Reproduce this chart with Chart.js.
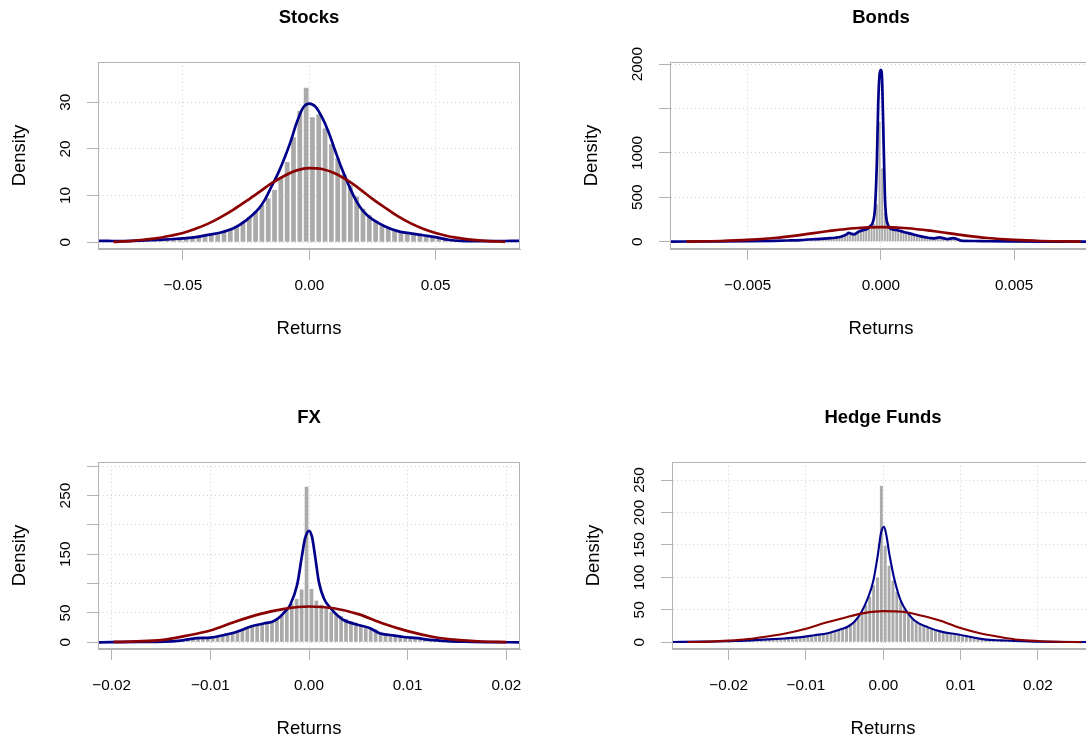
<!DOCTYPE html>
<html>
<head>
<meta charset="utf-8">
<script src="https://cdn.jsdelivr.net/npm/chart.js@4.4.1/dist/chart.umd.min.js"></script>
<style>
  html, body { margin: 0; padding: 0; background: #fff; overflow: hidden; width: 1086px; height: 740px; position: relative; }
  canvas { position: absolute; }
</style>
</head>
<body>
<canvas id="stocks" width="542" height="349" style="left:-2px;top:0px"></canvas>
<canvas id="bonds" width="542" height="349" style="left:570px;top:0px"></canvas>
<canvas id="fx" width="542" height="349" style="left:-2px;top:400px"></canvas>
<canvas id="hedge" width="542" height="349" style="left:572px;top:400px"></canvas>
<script>
// ---- Stocks ----
const stocksBinMid = [-0.06625,-0.06375,-0.06125,-0.05875,-0.05625,-0.05375,-0.05125,-0.04875,-0.04625,-0.04375,
  -0.04125,-0.03875,-0.03625,-0.03375,-0.03125,-0.02875,-0.02625,-0.02375,-0.02125,-0.01875,
  -0.01625,-0.01375,-0.01125,-0.00875,-0.00625,-0.00375,-0.00125,0.00125,0.00375,0.00625,
  0.00875,0.01125,0.01375,0.01625,0.01875,0.02125,0.02375,0.02625,0.02875,0.03125,
  0.03375,0.03625,0.03875,0.04125,0.04375,0.04625,0.04875,0.05125,0.05375,0.05625,
  0.05875,0.06125,0.06375];
const stocksBinDensity = [0.4,0.5,0.5,0.6,0.7,0.7,0.8,0.9,1.0,1.2,
  1.5,1.9,2.0,2.3,2.9,3.4,4.4,5.4,6.6,8.0,
  9.4,11.2,13.8,17.2,22.5,28.2,33.1,26.8,27.4,24.4,
  21.0,18.0,14.6,12.2,9.8,7.2,5.8,4.6,3.6,3.1,
  2.6,2.3,2.0,1.8,1.5,1.3,1.2,1.0,0.9,0.6,
  0.4,0.3,0.2];
const stocksKdeX = [-0.0838,-0.08,-0.075,-0.07,-0.065,-0.06,-0.055,-0.05,-0.045,-0.04,
  -0.035,-0.03,-0.025,-0.02,-0.0175,-0.015,-0.0125,-0.01,-0.0075,-0.005,
  -0.0025,0,0.0025,0.005,0.0075,0.01,0.0125,0.015,0.0175,0.02,
  0.0225,0.025,0.03,0.035,0.04,0.045,0.05,0.055,0.06,0.065,
  0.07,0.075,0.08,0.0834];
const stocksKdeY = [0.3,0.3,0.25,0.3,0.4,0.5,0.65,0.85,1.1,1.6,
  2.1,3.0,4.7,7.2,9.2,11.9,14.6,17.8,21.4,25.6,
  28.8,29.7,29.0,26.8,23.8,20.0,16.3,13.0,10.0,7.6,
  6.0,4.9,3.4,2.4,1.9,1.5,1.1,0.55,0.3,0.25,
  0.25,0.25,0.3,0.3];
const stocksNormX = [-0.0775,-0.07,-0.065,-0.06,-0.055,-0.05,-0.045,-0.04,-0.035,-0.03,
  -0.025,-0.02,-0.015,-0.01,-0.005,0,0.005,0.01,0.015,0.02,
  0.025,0.03,0.035,0.04,0.045,0.05,0.055,0.06,0.065,0.07,0.0775];
const stocksNormY = [0.1,0.3,0.6,0.9,1.4,2.0,2.9,4.0,5.4,7.0,
  8.8,10.7,12.6,14.2,15.4,15.9,15.7,14.8,13.3,11.4,
  9.3,7.4,5.6,4.1,2.9,2.0,1.3,0.85,0.5,0.3,0.1];
const stocksXTicks = [-0.05, 0, 0.05];
const stocksXLabels = ['\u22120.05', '0.00', '0.05'];
const stocksYTicks = [0, 10, 20, 30];
const stocksYLabels = ['0', '10', '20', '30'];

// ---- Bonds ----
const bondsBinMid = [-0.00305,-0.00295,-0.00285,-0.00275,-0.00265,-0.00255,-0.00245,-0.00235,-0.00225,-0.00215,
  -0.00205,-0.00195,-0.00185,-0.00175,-0.00165,-0.00155,-0.00145,-0.00135,-0.00125,-0.00115,
  -0.00105,-0.00095,-0.00085,-0.00075,-0.00065,-0.00055,-0.00045,-0.00035,-0.00025,-0.00015,
  -0.00005,0.00005,0.00015,0.00025,0.00035,0.00045,0.00055,0.00065,0.00075,0.00085,
  0.00095,0.00105,0.00115,0.00125,0.00135,0.00145,0.00155,0.00165,0.00175,0.00185,
  0.00195,0.00205,0.00215,0.00225,0.00235,0.00245,0.00255,0.00265,0.00275,0.00285,
  0.00295,0.00305];
const bondsBinDensity = [10,12,14,15,18,20,25,30,28,35,
  38,36,42,45,48,52,60,70,95,90,
  85,95,110,120,130,140,150,165,200,420,
  1350,826,330,190,155,140,132,128,120,112,
  104,96,88,80,72,62,58,50,46,42,
  38,40,46,44,36,32,30,36,34,24,
  14,10];
const bondsKdeX = [-0.0079,-0.006,-0.005,-0.004,-0.0035,-0.003,-0.0027,-0.0024,-0.002,-0.0017,
  -0.0015,-0.0013,-0.0012,-0.0011,-0.001,-0.0009,-0.0008,-0.00065,-0.0005,-0.0004,
  -0.0003,-0.00022,-0.00015,-0.0001,-0.00005,0,0.00005,0.0001,0.00015,0.0002,
  0.00028,0.00035,0.00045,0.00055,0.0007,0.00085,0.001,0.00115,0.0013,0.0015,
  0.0017,0.0019,0.002,0.0022,0.0024,0.0025,0.0027,0.0029,0.003,0.0035,
  0.004,0.005,0.006,0.0079];
const bondsKdeY = [2,3,5,10,14,19,25,30,38,45,
  56,80,100,88,83,100,118,132,145,175,
  220,380,900,1550,1880,1935,1800,1150,520,280,
  180,150,138,132,124,110,100,88,75,60,
  49,40,38,48,35,30,40,25,12,8,
  5,3,2,2];
const bondsNormX = [-0.0073,-0.006,-0.005,-0.004,-0.003,-0.002,-0.001,0,0.001,0.002,0.003,0.004,0.005,0.006,0.0075];
const bondsNormY = [1,8,20,42,77,118,152,165,152,118,77,42,20,8,1];
const bondsXTicks = [-0.005, 0, 0.005];
const bondsXLabels = ['\u22120.005', '0.000', '0.005'];
const bondsYTicks = [0, 500, 1000, 1500, 2000];
const bondsYLabels = ['0', '500', '1000', '', '2000'];

// ---- FX ----
const fxBinMid = [-0.01475,-0.01425,-0.01375,-0.01325,-0.01275,-0.01225,-0.01175,-0.01125,-0.01075,-0.01025,
  -0.00975,-0.00925,-0.00875,-0.00825,-0.00775,-0.00725,-0.00675,-0.00625,-0.00575,-0.00525,
  -0.00475,-0.00425,-0.00375,-0.00325,-0.00275,-0.00225,-0.00175,-0.00125,-0.00075,-0.00025,
  0.00025,0.00075,0.00125,0.00175,0.00225,0.00275,0.00325,0.00375,0.00425,0.00475,
  0.00525,0.00575,0.00625,0.00675,0.00725,0.00775,0.00825,0.00875,0.00925,0.00975,
  0.01025,0.01075,0.01125,0.01175,0.01225,0.01275,0.01325,0.01375,0.01425,0.01475,0.01525];
const fxBinDensity = [1,1.5,2,3,4,5,6,7,8,8,
  9,10,12,14,16,19,22,25,28,30,
  32,33,36,40,46,55,66,74,90,265,
  91,71,64,57,52,49,45,40,36,32,
  29,28,25,22,18,15,13,11,9,8,
  7,7,6,5,4,3,2.5,2,1.5,1,1];
const fxKdeX = [-0.0214,-0.02,-0.017,-0.0147,-0.013,-0.0114,-0.01,-0.0086,-0.0073,-0.0059,
  -0.0046,-0.0036,-0.0029,-0.0024,-0.0019,-0.0012,-0.0007,-0.0004,0,0.0003,
  0.0006,0.001,0.0015,0.0022,0.0035,0.0049,0.0062,0.0072,0.0082,0.0096,
  0.011,0.0123,0.014,0.0157,0.018,0.0214];
const fxKdeY = [0,0.2,0.6,1,3,7,8,12.5,18,27,
  32,36,44,53,64,98,149,177,190,180,
  149,103,75,58,38,30,24,15,12.5,9,
  7,4,2,1,0.4,0];
const fxNormX = [-0.0198,-0.0175,-0.015,-0.0125,-0.01,-0.0075,-0.005,-0.0025,0,0.0025,0.005,0.0075,0.01,0.0125,0.015,0.0175,0.02];
const fxNormY = [0.6,1.6,3.8,11,20,35,48,57,61,58,48,32,19,9.5,4,1.4,0.4];
const fxXTicks = [-0.02, -0.01, 0, 0.01, 0.02];
const fxXLabels = ['\u22120.02', '\u22120.01', '0.00', '0.01', '0.02'];
const fxYTicks = [0, 50, 100, 150, 200, 250, 300];
const fxYLabels = ['0', '50', '', '150', '', '250', ''];

// ---- Hedge Funds ----
const hedgeBinMid = [-0.01725,-0.01675,-0.01625,-0.01575,-0.01525,-0.01475,-0.01425,-0.01375,-0.01325,-0.01275,
  -0.01225,-0.01175,-0.01125,-0.01075,-0.01025,-0.00975,-0.00925,-0.00875,-0.00825,-0.00775,
  -0.00725,-0.00675,-0.00625,-0.00575,-0.00525,-0.00475,-0.00425,-0.00375,-0.00325,-0.00275,
  -0.00225,-0.00175,-0.00125,-0.00075,-0.00025,
  0.00025,0.00075,0.00125,0.00175,0.00225,0.00275,0.00325,0.00375,0.00425,0.00475,
  0.00525,0.00575,0.00625,0.00675,0.00725,0.00775,0.00825,0.00875,0.00925,0.00975,
  0.01025,0.01075,0.01125,0.01175,0.01225,0.01275,0.01325,0.01375,0.01425,0.01475,
  0.01525,0.01575,0.01625,0.01675,0.01725,0.01775];
const hedgeBinDensity = [2,2,2.5,3,3,4,4.5,5,5.5,6,
  6.5,7,7.5,8,9,10,10.5,11.5,12,13,
  14,16,17.5,19,21,24,27,31,38,46,
  57,70,88,100,241,
  149,118,95,78,63,52,44,38,33,29,
  26,23,21,19,17,16,14.5,13.5,12.5,12,
  11,10,8.5,7,6,5,4.5,4,3.5,3,
  3,2.5,2,2,1.5,1.5];
const hedgeKdeX = [-0.0275,-0.0235,-0.0192,-0.0149,-0.0128,-0.0106,-0.0089,-0.0072,-0.0054,-0.0046,
  -0.0037,-0.0028,-0.002,-0.0013,-0.0007,-0.0003,0.0001,0.0004,0.0008,0.0015,
  0.0023,0.0032,0.004,0.0058,0.0075,0.0097,0.0118,0.0131,0.0153,0.0196,0.0275];
const hedgeKdeY = [0.5,1,2,4.5,6,8,11,14,20.5,24,
  32,47,68,94,135,168,178,165,135,94,
  63,45,34,23,16.5,12,7,4.5,3,1,0.5];
const hedgeNormX = [-0.0253,-0.0225,-0.02,-0.0175,-0.015,-0.0125,-0.01,-0.0075,-0.005,-0.0025,
  0,0.0025,0.005,0.0075,0.01,0.0125,0.015,0.0175,0.02,0.0225,0.0256];
const hedgeNormY = [0.4,1.1,2.6,5,9,14,21,30,38,45,
  48,47,41,33,22,14,8.5,4,2,0.9,0.3];
const hedgeXTicks = [-0.02, -0.01, 0, 0.01, 0.02];
const hedgeXLabels = ['\u22120.02', '\u22120.01', '0.00', '0.01', '0.02'];
const hedgeYTicks = [0, 50, 100, 150, 200, 250];
const hedgeYLabels = ['0', '50', '100', '150', '200', '250'];

Chart.defaults.font.family = "'Liberation Sans', Arial, Helvetica, sans-serif";
Chart.defaults.color = '#000';

const axisGray = '#b3b3b3';

// frame round the plot region, like R's box()
const boxPlugin = {
  id: 'plotBox',
  afterDraw(chart) {
    const a = chart.chartArea;
    const ctx = chart.ctx;
    ctx.save();
    ctx.strokeStyle = axisGray;
    ctx.lineWidth = 1;
    ctx.strokeRect(Math.round(a.left) + 0.5, Math.round(a.top) + 0.5,
      Math.round(a.right - a.left) - 1, Math.round(a.bottom - a.top) - 1);
    ctx.restore();
  }
};

function pairs(xs, ys) {
  return xs.map((x, i) => ({ x: x, y: ys[i] }));
}

function makePanel(id, p) {
  new Chart(document.getElementById(id), {
    type: 'bar',
    data: {
      datasets: [
        { type: 'line', data: pairs(p.normX, p.normY), borderColor: '#8b0000', borderWidth: p.lw,
          pointRadius: 0, cubicInterpolationMode: 'monotone', order: 0 },
        { type: 'line', data: pairs(p.kdeX, p.kdeY), borderColor: '#00008b', borderWidth: p.lw,
          pointRadius: 0, cubicInterpolationMode: 'monotone', order: 1 },
        { type: 'bar', data: pairs(p.binMid, p.binDensity), backgroundColor: '#aaaaaa',
          barPercentage: 1, categoryPercentage: 0.75, order: 2 }
      ]
    },
    options: {
      responsive: false,
      animation: false,
      layout: { padding: { left: 0, right: 20, top: 0, bottom: 0 } },
      plugins: {
        legend: { display: false },
        tooltip: { enabled: false },
        title: {
          display: true, text: p.title, fullSize: false,
          font: { size: 18.5, weight: 'bold' },
          padding: { top: 6.9, bottom: 32.9 }
        }
      },
      scales: {
        x: {
          type: 'linear', min: p.xmin, max: p.xmax, offset: false,
          afterBuildTicks: (s) => { s.ticks = p.xTicks.map(v => ({ value: v })); },
          afterFit: (s) => { s.height = 100; s.paddingLeft = 0; s.paddingRight = 0; },
          ticks: {
            autoSkip: false, maxRotation: 0, minRotation: 0, padding: 16.5,
            font: { size: 15.3 },
            callback: (v, i) => p.xLabels[i]
          },
          grid: { color: '#d3d3d3', offset: false, tickLength: 11, tickColor: axisGray, tickWidth: 1 },
          border: { display: true, color: axisGray, width: 1, dash: [1, 3] },
          title: { display: true, text: 'Returns', font: { size: 18.5 }, padding: { top: 0, bottom: 8.9 } }
        },
        y: {
          type: 'linear', min: p.ymin, max: p.ymax,
          afterBuildTicks: (s) => { s.ticks = p.yTicks.map(v => ({ value: v })); },
          afterFit: (s) => { s.width = 100; s.paddingTop = 0; s.paddingBottom = 0; },
          ticks: {
            minRotation: 90, maxRotation: 90, crossAlign: 'center', padding: p.yPad,
            font: { size: 15.3 },
            callback: (v, i) => p.yLabels[i]
          },
          grid: { color: '#d3d3d3', tickLength: 11, tickColor: axisGray, tickWidth: 1 },
          border: { display: true, color: axisGray, width: 1, dash: [1, 3] },
          title: { display: true, text: 'Density', font: { size: 18.5 }, padding: { top: 10.9, bottom: 0 } }
        }
      }
    },
    plugins: [boxPlugin]
  });
}

makePanel('stocks', {
  title: 'Stocks', lw: 2.7,
  binMid: stocksBinMid, binDensity: stocksBinDensity,
  kdeX: stocksKdeX, kdeY: stocksKdeY, normX: stocksNormX, normY: stocksNormY,
  xTicks: stocksXTicks, xLabels: stocksXLabels, yTicks: stocksYTicks, yLabels: stocksYLabels,
  xmin: -0.08361, xmax: 0.08338, ymin: -1.44, ymax: 38.63, yPad: 12.5
});
makePanel('bonds', {
  title: 'Bonds', lw: 2.7,
  binMid: bondsBinMid, binDensity: bondsBinDensity,
  kdeX: bondsKdeX, kdeY: bondsKdeY, normX: bondsNormX, normY: bondsNormY,
  xTicks: bondsXTicks, xLabels: bondsXLabels, yTicks: bondsYTicks, yLabels: bondsYLabels,
  xmin: -0.00791, xmax: 0.00792, ymin: -82, ymax: 2024, yPad: 4
});
makePanel('fx', {
  title: 'FX', lw: 2.7,
  binMid: fxBinMid, binDensity: fxBinDensity,
  kdeX: fxKdeX, kdeY: fxKdeY, normX: fxNormX, normY: fxNormY,
  xTicks: fxXTicks, xLabels: fxXLabels, yTicks: fxYTicks, yLabels: fxYLabels,
  xmin: -0.02138, xmax: 0.02138, ymin: -11.4, ymax: 307.3, yPad: 8.25
});
makePanel('hedge', {
  title: 'Hedge Funds', lw: 2.1,
  binMid: hedgeBinMid, binDensity: hedgeBinDensity,
  kdeX: hedgeKdeX, kdeY: hedgeKdeY, normX: hedgeNormX, normY: hedgeNormY,
  xTicks: hedgeXTicks, xLabels: hedgeXLabels, yTicks: hedgeYTicks, yLabels: hedgeYLabels,
  xmin: -0.02732, xmax: 0.02725, ymin: -10.3, ymax: 277.9, yPad: 8.25
});
</script>
</body>
</html>
